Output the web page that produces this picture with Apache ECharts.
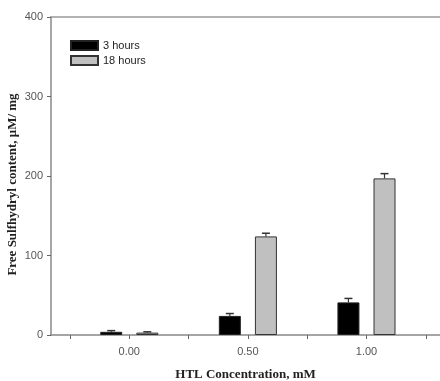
<!DOCTYPE html>
<html>
<head>
<meta charset="utf-8">
<script src="https://cdn.jsdelivr.net/npm/echarts@6/dist/echarts.min.js"></script>
<style>html,body{margin:0;padding:0;background:#fff}#c{width:440px;height:381px}</style>
</head>
<body>
<div id="c"></div>
<script>
var concentrations = [0.00, 0.50, 1.00];
var seriesNames = ['3 hours', '18 hours'];
var hours3 = [4, 24, 41];
var hours3Err = [1.5, 3, 5];
var hours18 = [3, 124, 197];
var hours18Err = [1, 4, 6];
var yTicks = [0, 100, 200, 300, 400];
var xTickValues = [-0.25, 0, 0.25, 0.5, 0.75, 1.0, 1.25];

var BAR_W = 22, BAR_GAP = 0.64;
var halfOffset = (BAR_W * 2 + BAR_W * BAR_GAP) / 2 - BAR_W / 2;

function pairs(vals) { return concentrations.map(function (c, i) { return [c, vals[i]]; }); }
function errData(vals, errs) { return concentrations.map(function (c, i) { return [c, vals[i], vals[i] + errs[i]]; }); }

function errRender(dir) {
  return function (params, api) {
    var x = api.value(0);
    var p0 = api.coord([x, api.value(1)]);
    var p1 = api.coord([x, api.value(2)]);
    var cx = p0[0] + dir * halfOffset;
    return {
      type: 'group',
      children: [
        { type: 'line', shape: { x1: cx, y1: p0[1], x2: cx, y2: p1[1] }, style: { stroke: '#333', lineWidth: 1.2 } },
        { type: 'line', shape: { x1: cx - 4, y1: p1[1], x2: cx + 4, y2: p1[1] }, style: { stroke: '#333', lineWidth: 1.5 } }
      ]
    };
  };
}

var chart = echarts.init(document.getElementById('c'), null, { renderer: 'canvas' });
chart.setOption({
  animation: false,
  backgroundColor: '#fff',
  grid: { left: 51, top: 17, right: 0, bottom: 46, containLabel: false, outerBoundsMode: 'none' },
  legend: {
    data: seriesNames,
    orient: 'vertical',
    left: 70, top: 40,
    padding: 0,
    itemWidth: 27, itemHeight: 9, itemGap: 4,
    icon: 'rect',
    textStyle: { fontFamily: 'Liberation Sans', fontSize: 11, color: '#222' }
  },
  xAxis: [{
    type: 'value',
    min: -0.33, max: 1.31,
    position: 'bottom',
    name: 'HTL Concentration, mM',
    nameLocation: 'middle',
    nameGap: 33,
    nameMoveOverlap: false,
    nameTextStyle: { fontFamily: 'Liberation Serif', fontWeight: 'bold', fontSize: 13, color: '#222' },
    axisLine: { show: true, onZero: false, lineStyle: { color: '#888', width: 1.5 } },
    axisTick: { show: true, customValues: xTickValues, length: 4, lineStyle: { color: '#666' } },
    axisLabel: { customValues: concentrations, formatter: function (v) { return v.toFixed(2); }, color: '#555', fontFamily: 'Liberation Sans', fontSize: 11, margin: 11 },
    splitLine: { show: false }
  }, {
    type: 'value',
    min: -0.33, max: 1.31,
    position: 'top',
    axisLine: { show: true, onZero: false, lineStyle: { color: '#999', width: 1.5 } },
    axisTick: { show: false }, axisLabel: { show: false }, splitLine: { show: false }
  }],
  yAxis: {
    type: 'value',
    min: 0, max: 400, interval: 100,
    name: 'Free Sulfhydryl content, μM/ mg',
    nameLocation: 'middle',
    nameGap: 32,
    nameMoveOverlap: false,
    nameTextStyle: { fontFamily: 'Liberation Serif', fontWeight: 'bold', fontSize: 13, color: '#222', padding: [0, 17, 0, 0] },
    axisLine: { show: true, onZero: false, lineStyle: { color: '#888', width: 1.5 } },
    axisTick: { show: true, length: 4, lineStyle: { color: '#666' } },
    axisLabel: { color: '#555', fontFamily: 'Liberation Sans', fontSize: 11, margin: 8 },
    splitLine: { show: false }
  },
  series: [{
    name: seriesNames[0], type: 'bar', data: pairs(hours3),
    barWidth: BAR_W, barGap: (BAR_GAP * 100) + '%',
    itemStyle: { color: '#000', borderColor: '#222', borderWidth: 1 }
  }, {
    name: seriesNames[1], type: 'bar', data: pairs(hours18),
    barWidth: BAR_W, barGap: (BAR_GAP * 100) + '%',
    itemStyle: { color: '#c0c0c0', borderColor: '#333', borderWidth: 1 }
  }, {
    type: 'custom', data: errData(hours3, hours3Err), renderItem: errRender(-1), z: 5,
    encode: { x: 0, y: [1, 2] }
  }, {
    type: 'custom', data: errData(hours18, hours18Err), renderItem: errRender(1), z: 5,
    encode: { x: 0, y: [1, 2] }
  }]
});
</script>
</body>
</html>
